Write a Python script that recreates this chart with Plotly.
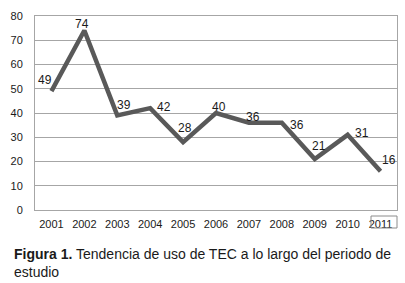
import plotly.graph_objects as go

years = ["2001", "2002", "2003", "2004", "2005", "2006", "2007", "2008", "2009", "2010", "2011"]
values = [49, 74, 39, 42, 28, 40, 36, 36, 21, 31, 16]
y_ticks = [0, 10, 20, 30, 40, 50, 60, 70, 80]

# label offsets (pixels) relative to each point
label_dx = [-6, -2, 7, 14, 2, 3, 4, 15, 4, 14, 8]
label_dy = [11, 7, 10, 1, 14, 6, 6, -2, 13, 2, 11]

font_family = "Liberation Sans, Arial, sans-serif"

fig = go.Figure()
fig.add_trace(go.Scatter(
    x=years, y=values, mode="lines",
    line=dict(color="#595959", width=4.5),
    hoverinfo="skip",
))

annotations = []
for i, (v, dx, dy) in enumerate(zip(values, label_dx, label_dy)):
    annotations.append(dict(
        x=i, y=v, xref="x", yref="y", text=str(v), showarrow=False,
        xshift=dx, yshift=dy, xanchor="center", yanchor="middle",
        font=dict(family=font_family, size=12, color="#1a1a1a"),
    ))

annotations.append(dict(
    xref="paper", yref="paper", x=(12 - 35) / 362, y=(210 - 244) / 194,
    xanchor="left", yanchor="top", align="left", showarrow=False,
    text="<b>Figura 1.</b> Tendencia de uso de TEC a lo largo del periodo de<br>estudio",
    font=dict(family=font_family, size=14, color="#1a1a1a"),
))

fig.update_layout(
    width=405, height=283,
    margin=dict(l=35, r=8, t=16, b=73, autoexpand=False),
    paper_bgcolor="white", plot_bgcolor="white",
    showlegend=False,
    font=dict(family=font_family, size=11, color="#1a1a1a"),
    xaxis=dict(
        type="category", range=[-0.5, 10.5], automargin=False,
        showgrid=False, showline=True, linecolor="#a6a6a6", linewidth=1, mirror=True,
        ticks="", ticklabelstandoff=4, tickfont=dict(size=11, color="#1a1a1a"),
    ),
    yaxis=dict(
        range=[0, 80], tickvals=y_ticks, automargin=False,
        showgrid=True, gridcolor="#a6a6a6", gridwidth=1,
        showline=True, linecolor="#a6a6a6", linewidth=1, mirror=True,
        ticks="", ticklabelstandoff=9, zeroline=False, tickfont=dict(size=11, color="#1a1a1a"),
    ),
    shapes=[dict(type="rect", xref="paper", yref="paper",
                 x0=(371 - 35) / 362, x1=(397 - 35) / 362,
                 y0=(210 - 228) / 194, y1=(210 - 216) / 194,
                 line=dict(color="#8c8c8c", width=1))],
    annotations=annotations,
)

fig.write_html("out.html", config={"displayModeBar": False},
               post_script="document.body.style.margin='0';document.body.style.padding='0';")
